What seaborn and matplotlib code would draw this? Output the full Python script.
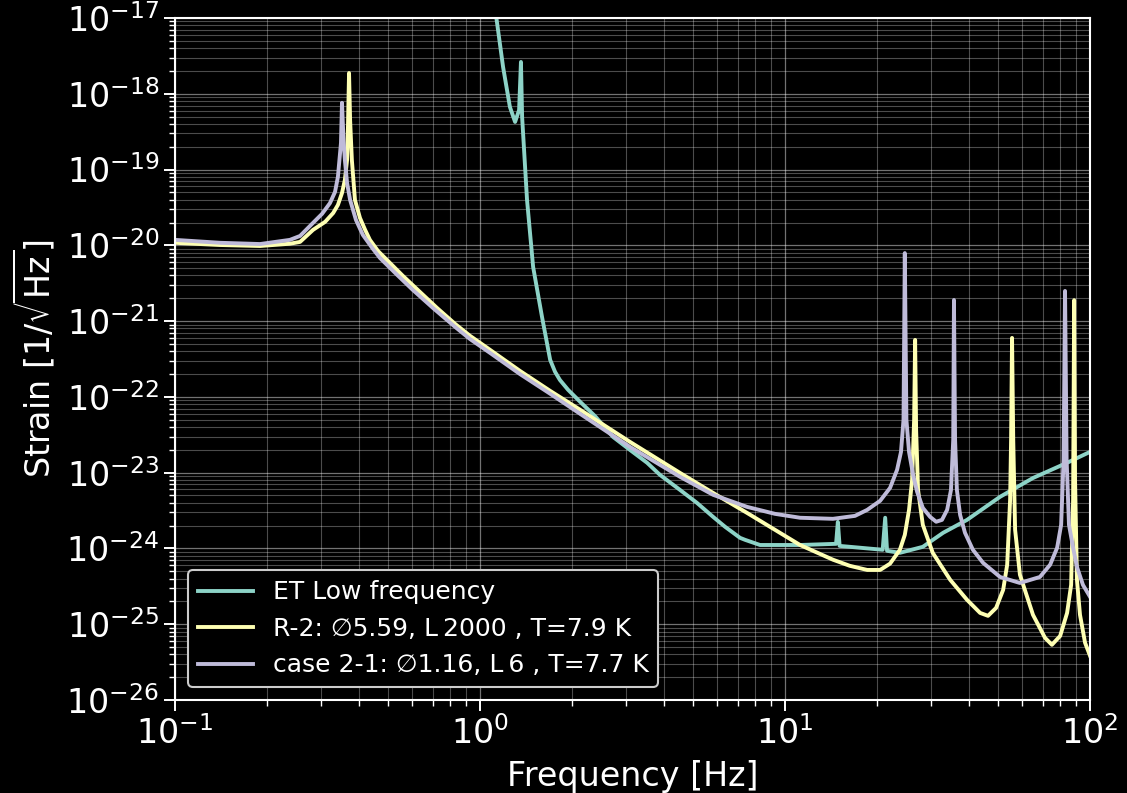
import matplotlib
matplotlib.use("Agg")
import matplotlib.pyplot as plt
import numpy as np
import pandas as pd
import seaborn as sns

# ---- ET Low frequency sensitivity curve ----
et_freq = [1.12, 1.19, 1.253, 1.303, 1.343, 1.362, 1.374, 1.426, 1.493, 1.597,
           1.698, 1.762, 1.828, 1.944, 2.13, 2.38, 2.73, 3.10, 3.53, 3.89,
           4.53, 5.14, 5.81, 6.36, 7.12, 7.39, 8.28, 11.2, 14.7, 14.9,
           15.1, 20.9, 21.3, 21.6, 23.8, 28.3, 33.0, 39.5, 50.7, 65.0,
           84.1, 100.0]
et_asd = [1.35e-17, 2.26e-18, 6.7e-19, 4.25e-19, 6.1e-19, 2.63e-18, 4.95e-19, 3.97e-20, 5.2e-21, 1.13e-21,
          3.08e-22, 2.14e-22, 1.67e-22, 1.24e-22, 8.6e-23, 5.6e-23, 2.96e-23, 2.0e-23, 1.35e-23, 9.35e-24,
          5.9e-24, 4.0e-24, 2.61e-24, 1.93e-24, 1.38e-24, 1.3e-24, 1.11e-24, 1.11e-24, 1.15e-24, 2.24e-24,
          1.08e-24, 9.6e-25, 2.54e-24, 9.3e-25, 8.75e-25, 1.05e-24, 1.61e-24, 2.38e-24, 4.8e-24, 8.5e-24,
          1.35e-23, 1.88e-23]

# ---- R-2 suspension ----
r2_freq = [0.100, 0.1405, 0.190, 0.238, 0.257, 0.2835, 0.3105, 0.330, 0.342, 0.3527,
           0.3605, 0.3665, 0.369, 0.372, 0.375, 0.380, 0.389, 0.404, 0.420, 0.4355,
           0.463, 0.4955, 0.559, 0.635, 0.723, 0.828, 0.927, 1.079, 1.352, 1.698,
           2.13, 3.10, 4.53, 5.81, 7.50, 9.27, 11.2, 14.36, 16.3, 18.6,
           20.5, 22.1, 23.8, 24.7, 25.5, 26.1, 26.5, 26.7, 26.9, 27.3,
           28.3, 30.5, 34.8, 39.5, 43.6, 46.3, 49.2, 51.9, 53.5, 54.7,
           55.1, 55.5, 56.0, 56.8, 58.9, 65.0, 71.2, 75.0, 79.8, 84.1,
           86.7, 88.0, 88.7, 89.3, 90.6, 92.7, 96.3, 100.0]
r2_asd = [1.08e-20, 1.01e-20, 9.8e-21, 1.05e-20, 1.11e-20, 1.6e-20, 2.04e-20, 2.67e-20, 3.41e-20, 4.9e-20,
          7.3e-20, 1.34e-19, 3.65e-19, 1.88e-18, 4.5e-19, 1.34e-19, 3.97e-20, 2.3e-20, 1.6e-20, 1.18e-20,
          8.4e-21, 6.4e-21, 3.94e-21, 2.43e-21, 1.49e-21, 9.2e-22, 6.4e-22, 4.17e-22, 2.2e-22, 1.2e-22,
          6.75e-23, 2.55e-23, 9.9e-24, 5.4e-24, 2.95e-24, 1.76e-24, 1.11e-24, 7.1e-25, 5.9e-25, 5.2e-25,
          5.2e-25, 6.3e-25, 9.6e-25, 1.51e-24, 3.23e-24, 8.0e-24, 5.0e-23, 5.65e-22, 3.7e-23, 5.9e-24,
          2.05e-24, 8.75e-25, 3.85e-25, 2.1e-25, 1.41e-25, 1.29e-25, 1.64e-25, 2.84e-25, 6.1e-25, 4.4e-24,
          2.71e-23, 6.0e-22, 2.71e-23, 1.76e-24, 4.5e-25, 1.33e-25, 6.6e-26, 5.35e-26, 7.0e-26, 1.41e-25,
          3.3e-25, 4.4e-24, 1.89e-21, 8.0e-24, 3.85e-25, 1.33e-25, 5.7e-26, 3.83e-26]

# ---- case 2-1 suspension ----
c21_freq = [0.100, 0.1405, 0.190, 0.238, 0.257, 0.2835, 0.3034, 0.322, 0.3346, 0.342,
            0.350, 0.3527, 0.3568, 0.3605, 0.3665, 0.375, 0.392, 0.413, 0.443, 0.470,
            0.535, 0.602, 0.701, 0.828, 0.927, 1.079, 1.352, 1.698, 2.13, 3.10,
            4.53, 5.81, 7.50, 9.27, 11.2, 14.36, 16.96, 18.6, 20.5, 22.1,
            23.3, 24.0, 24.46, 24.7, 25.0, 25.5, 26.3, 27.1, 28.3, 29.9,
            31.3, 32.7, 34.0, 35.0, 35.6, 35.8, 36.1, 36.6, 37.5, 38.9,
            41.3, 44.6, 50.7, 58.9, 68.5, 74.0, 78.0, 80.4, 81.9, 82.8,
            83.8, 85.3, 88.0, 90.6, 94.8, 100.0]
c21_asd = [1.18e-20, 1.08e-20, 1.04e-20, 1.18e-20, 1.33e-20, 1.98e-20, 2.6e-20, 3.6e-20, 5.06e-20, 8.0e-20,
           2.24e-19, 7.6e-19, 2.46e-19, 1.34e-19, 6.65e-20, 3.97e-20, 2.16e-20, 1.37e-20, 9.25e-21, 6.8e-21,
           4.07e-21, 2.58e-21, 1.49e-21, 8.4e-22, 5.8e-22, 3.8e-22, 2.0e-22, 1.1e-22, 5.97e-23, 2.19e-23,
           8.8e-24, 5.1e-24, 3.54e-24, 2.86e-24, 2.54e-24, 2.46e-24, 2.69e-24, 3.23e-24, 4.25e-24, 6.3e-24,
           1.09e-23, 1.88e-23, 5.0e-23, 7.9e-21, 5.0e-23, 1.88e-23, 9.35e-24, 5.6e-24, 3.43e-24, 2.61e-24,
           2.25e-24, 2.38e-24, 3.23e-24, 5.9e-24, 2.71e-23, 1.9e-21, 2.71e-23, 5.9e-24, 2.77e-24, 1.61e-24,
           9.6e-25, 6.45e-25, 4.2e-25, 3.5e-25, 4.2e-25, 6.1e-25, 1.02e-24, 2.05e-24, 1.48e-23, 2.5e-21,
           1.48e-23, 2.05e-24, 1.02e-24, 5.7e-25, 3.3e-25, 2.3e-25]

labels = ["ET Low frequency",
          "R-2: \u22055.59, L\u20092000 , T=7.9 K",
          "case 2-1: \u22051.16, L\u20096 , T=7.7 K"]
colors = ["#8dd3c7", "#feffb3", "#bfbbd9"]

df = pd.concat([
    pd.DataFrame({"freq": et_freq, "asd": et_asd, "curve": labels[0]}),
    pd.DataFrame({"freq": r2_freq, "asd": r2_asd, "curve": labels[1]}),
    pd.DataFrame({"freq": c21_freq, "asd": c21_asd, "curve": labels[2]}),
], ignore_index=True)

plt.style.use("dark_background")
plt.rcParams["font.family"] = ["DejaVu Sans"]

fig = plt.figure(figsize=(11.27, 7.93), dpi=100)
ax = fig.add_axes([0.1553, 0.1173, 0.8119, 0.8600])

sns.lineplot(data=df, x="freq", y="asd", hue="curve", hue_order=labels,
             palette=colors, estimator=None, sort=False, linewidth=2.8, ax=ax)

ax.set_xscale("log")
ax.set_yscale("log")
ax.set_xlim(0.1, 100)
ax.set_ylim(1e-26, 1e-17)
ax.yaxis.set_major_locator(matplotlib.ticker.LogLocator(base=10, numticks=20))
ax.yaxis.set_minor_locator(matplotlib.ticker.LogLocator(base=10, subs=np.arange(2, 10), numticks=20))

ax.grid(True, which="major", color="white", alpha=0.45, linewidth=0.9)
ax.grid(True, which="minor", color="white", alpha=0.3, linewidth=0.8)

for sp in ax.spines.values():
    sp.set_color("white")
    sp.set_linewidth(1.5)
ax.tick_params(which="major", length=8, width=1.4, labelsize=24, colors="white")
ax.tick_params(which="minor", length=4, width=1.0, colors="white")

ax.set_xlabel("Frequency [Hz]", fontsize=24, labelpad=7)
ax.set_ylabel(r"Strain [1/$\sqrt{\mathrm{Hz}}$]", fontsize=24, labelpad=6)

leg = ax.legend(loc="lower left", fontsize=18, frameon=True, facecolor="black",
                edgecolor="#cccccc", framealpha=1.0, handlelength=2.2)
leg.get_frame().set_linewidth(1.5)
for line in leg.get_lines():
    line.set_linewidth(2.8)

fig.savefig("out.png", dpi=100, facecolor="black")
